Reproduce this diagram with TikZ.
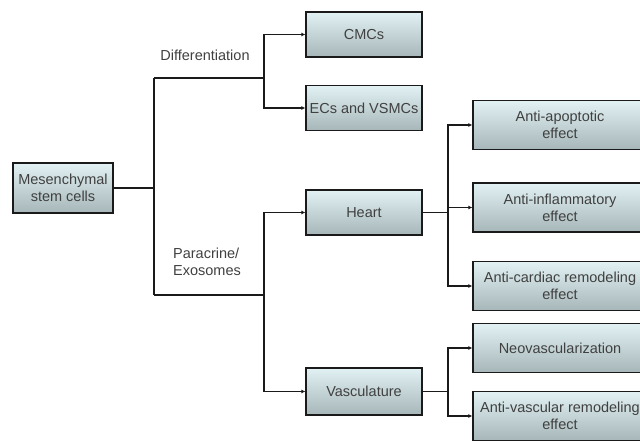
\documentclass[tikz,border=0pt]{standalone}
\usepackage{fontspec}
\setmainfont{Liberation Sans}
\usetikzlibrary{arrows.meta, positioning}
\definecolor{boxtop}{HTML}{E2F1F3}
\definecolor{boxbottom}{HTML}{A7B7B9}
\definecolor{textgray}{HTML}{404040}
\definecolor{linegray}{HTML}{1A1A1A}

\begin{document}
\begin{tikzpicture}[x=1pt, y=-1pt,
    cellbox/.style={draw=linegray, line width=1.3pt, top color=boxtop, bottom color=boxbottom,
      text=textgray, align=center, inner sep=0pt, font=\fontsize{14.5}{17}\selectfont},
    link/.style={draw=linegray, line width=1.3pt},
    linkarrow/.style={link, -{Latex[length=4pt, width=4pt]}},
    lbl/.style={text=textgray, font=\fontsize{14.5}{17}\selectfont, align=left}]
  \clip (0,0) rectangle (640,441);
  % Kasten
  \node[cellbox, minimum width=100, minimum height=50] (msc) at (63,188) {Mesenchymal\\stem cells};
  \node[cellbox, minimum width=116, minimum height=45] (cmc) at (364,34.5) {CMCs};
  \node[cellbox, minimum width=116, minimum height=45] (ecs) at (364,108) {ECs and VSMCs};
  \node[cellbox, minimum width=116, minimum height=45] (heart) at (364,212.5) {Heart};
  \node[cellbox, minimum width=116, minimum height=47] (vasc) at (364,391.5) {Vasculature};
  \node[cellbox, minimum width=174, minimum height=49] (apo) at (560,125) {Anti-apoptotic\\effect};
  \node[cellbox, minimum width=174, minimum height=49] (infl) at (560,207.5) {Anti-inflammatory\\effect};
  \node[cellbox, minimum width=174, minimum height=49] (card) at (560,286) {Anti-cardiac remodeling\\effect};
  \node[cellbox, minimum width=174, minimum height=49] (neo) at (560,348) {Neovascularization};
  \node[cellbox, minimum width=174, minimum height=49] (avr) at (560,416) {Anti-vascular remodeling\\effect};
  % Beschriftungen
  \node[lbl] (diff) at (205,55) {Differentiation};
  \node[lbl] (para) at (207,262) {Paracrine/\\Exosomes};
  % Verbindungen
  \coordinate (top) at (154,78);
  \coordinate (bot) at (154,295);
  \coordinate (dj) at (264,78);
  \coordinate (pj) at (264,295);
  \draw[link] (msc.east) -- (msc.east -| top);
  \draw[link] (top) -- (bot);
  \draw[link] (top) -- (dj);
  \draw[link] (bot) -- (pj);
  \draw[linkarrow] (dj) |- (cmc.west);
  \draw[linkarrow] (dj) |- (ecs.west);
  \draw[linkarrow] (pj) |- (heart.west);
  \draw[linkarrow] (pj) |- (vasc.west);
  \coordinate (hj) at (448,212.5);
  \coordinate (vj) at (448,391.5);
  \draw[link] (heart.east) -- (hj);
  \draw[link] (vasc.east) -- (vj);
  \draw[linkarrow] (hj) |- (apo.west);
  \draw[linkarrow] (hj) |- (infl.west);
  \draw[linkarrow] (hj) |- (card.west);
  \draw[linkarrow] (vj) |- (neo.west);
  \draw[linkarrow] (vj) |- (avr.west);
\end{tikzpicture}
\end{document}
